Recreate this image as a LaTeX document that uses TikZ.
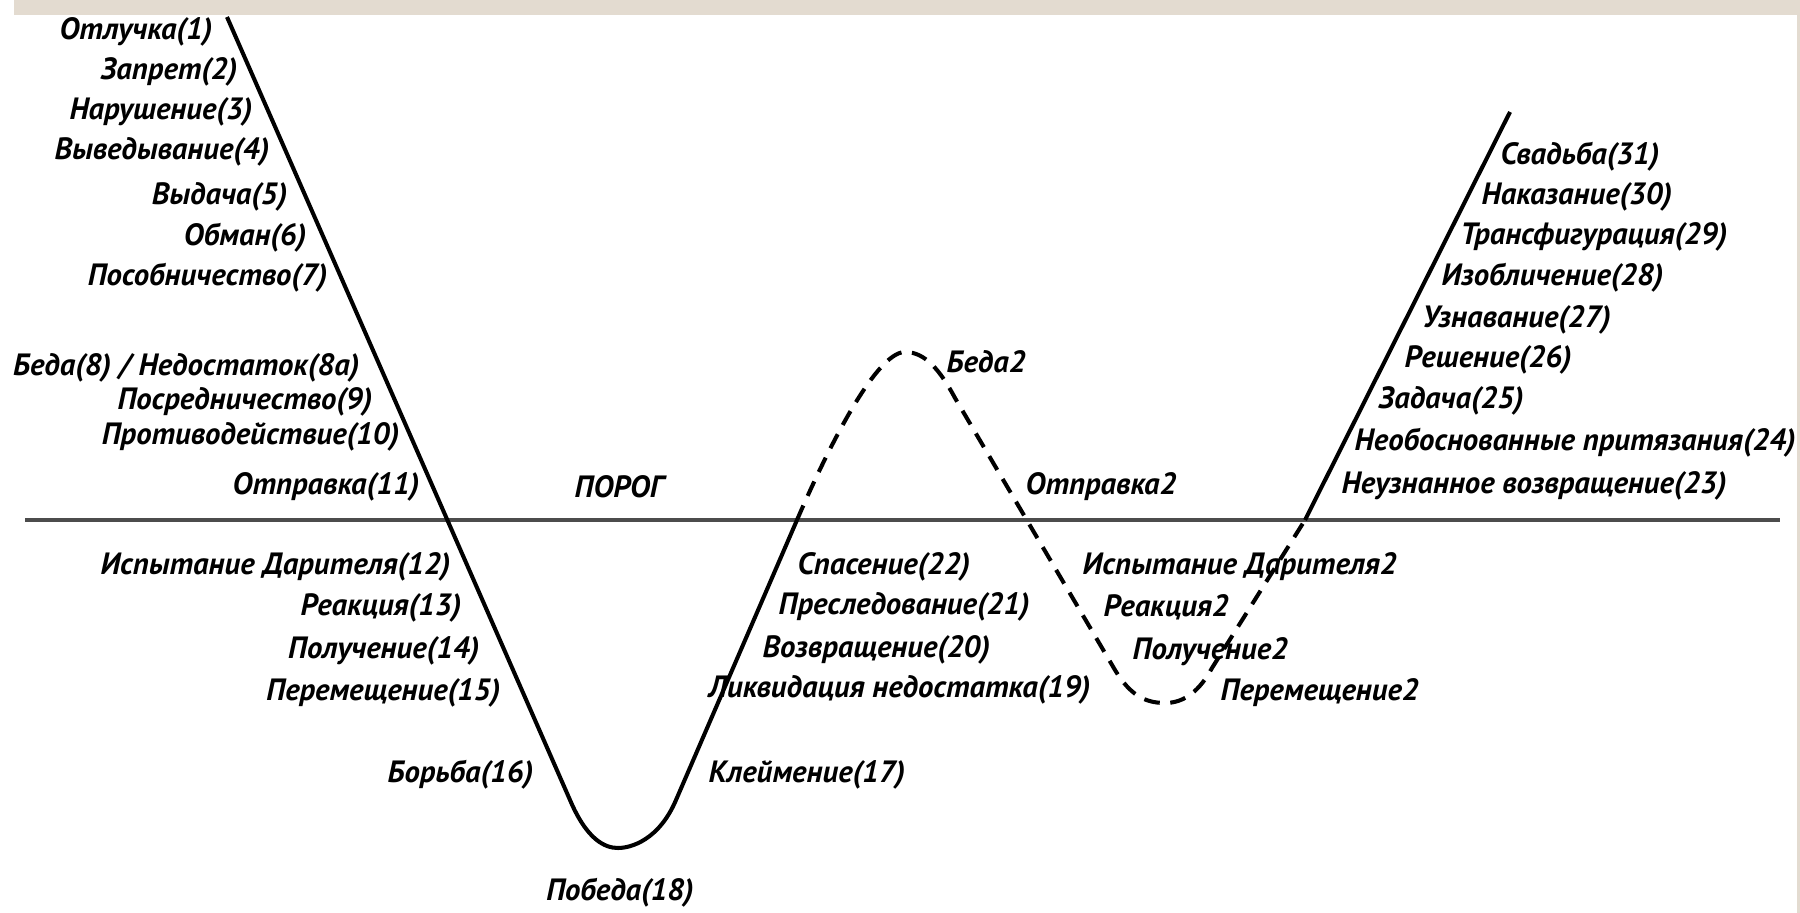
\documentclass[tikz,border=0pt]{standalone}
\usepackage{fontspec}
\setmainfont{PT Sans}
\definecolor{band}{HTML}{E3DBD0}
\begin{document}
\begin{tikzpicture}[x=0.01cm,y=-0.01cm,
  lbl/.style={inner sep=0pt, font=\fontsize{8.75pt}{10pt}\selectfont\bfseries\itshape},
  le/.style={lbl,anchor=east}, lw/.style={lbl,anchor=west}, lc/.style={lbl,anchor=center},
  curve/.style={line width=1.15pt, line join=round},
  dashcurve/.style={curve, dash pattern=on 4.5pt off 3pt},
  base/.style={line width=0.9pt, draw=black!70}]
\useasboundingbox (0,0) rectangle (1800,913);
\fill[band] (14,0) rectangle (1800,15);
\fill[band] (1797,15) rectangle (1800,913);
% geometry
\coordinate (top) at (227,17);
\coordinate (vl) at (570,800);
\coordinate (vb) at (618,848);
\coordinate (vr) at (676,800);
\coordinate (x1) at (797,520);
\coordinate (pk) at (905,352);
\coordinate (d1) at (955,398);
\coordinate (d2) at (1115,670);
\coordinate (tr) at (1165,703);
\coordinate (d3) at (1212,668);
\coordinate (x2) at (1305,520);
\coordinate (end) at (1510,112);
\coordinate (h0) at (25,520);
\coordinate (h1) at (1780,520);
\draw[base] (h0) -- (h1);
\draw[curve] (top) -- (vl) .. controls (587,840) and (605,848) .. (vb) .. controls (631,848) and (659,840) .. (vr) -- (x1);
\draw[dashcurve] (x1) .. controls (825,455) and (875,352) .. (pk) .. controls (925,352) and (940,370) .. (d1) -- (d2) .. controls (1130,695) and (1145,703) .. (tr) .. controls (1185,703) and (1200,690) .. (d3) -- (x2);
\draw[curve] (x2) -- (end);
% upper left labels
\node[le] (l1) at (213,32) {Отлучка(1)};
\node[le] (l2) at (238,72) {Запрет(2)};
\node[le] (l3) at (253,112) {Нарушение(3)};
\node[le] (l4) at (270,152) {Выведывание(4)};
\node[le] (l5) at (288,197) {Выдача(5)};
\node[le] (l6) at (307,238) {Обман(6)};
\node[le] (l7) at (328,278) {Пособничество(7)};
\node[le] (l8) at (360,368) {Беда(8) / Недостаток(8а)};
\node[le] (l9) at (373,402) {Посредничество(9)};
\node[le] (l10) at (400,437) {Противодействие(10)};
\node[le] (l11) at (420,487) {Отправка(11)};
\node[lw] (por) at (574,487) {ПОРОГ};
% lower left
\node[le] (l12) at (451,567) {Испытание Дарителя(12)};
\node[le] (l13) at (462,608) {Реакция(13)};
\node[le] (l14) at (480,651) {Получение(14)};
\node[le] (l15) at (501,693) {Перемещение(15)};
\node[le] (l16) at (534,775) {Борьба(16)};
\node[lc] (l18) at (620,893) {Победа(18)};
\node[lw] (l17) at (708,775) {Клеймение(17)};
\node[lw] (l19) at (708,690) {Ликвидация недостатка(19)};
\node[lw] (l20) at (762,650) {Возвращение(20)};
\node[lw] (l21) at (778,607) {Преследование(21)};
\node[lw] (l22) at (797,567) {Спасение(22)};
% middle
\node[lw] (b2) at (946,362) {Беда2};
\node[lw] (o2) at (1025,487) {Отправка2};
\node[lw] (i2) at (1082,567) {Испытание Дарителя2};
\node[lw] (r2) at (1103,607) {Реакция2};
\node[lw] (p2) at (1132,652) {Получение2};
\node[lw] (m2) at (1220,693) {Перемещение2};
% right
\node[lw] (l31) at (1500,157) {Свадьба(31)};
\node[lw] (l30) at (1481,197) {Наказание(30)};
\node[lw] (l29) at (1460,237) {Трансфигурация(29)};
\node[lw] (l28) at (1441,278) {Изобличение(28)};
\node[lw] (l27) at (1422,320) {Узнавание(27)};
\node[lw] (l26) at (1404,360) {Решение(26)};
\node[lw] (l25) at (1378,401) {Задача(25)};
\node[lw] (l24) at (1354,443) {Необоснованные притязания(24)};
\node[lw] (l23) at (1341,486) {Неузнанное возвращение(23)};
\end{tikzpicture}
\end{document}
